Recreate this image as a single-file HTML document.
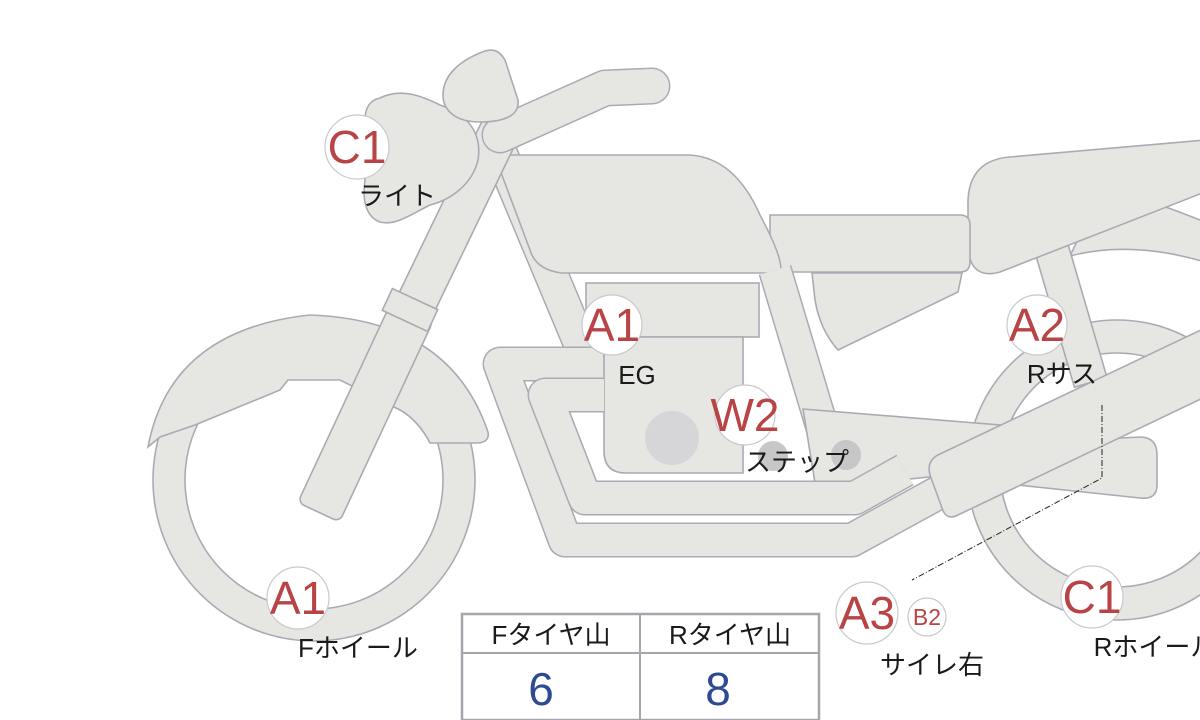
<!DOCTYPE html>
<html><head><meta charset="utf-8"><style>
html,body{margin:0;padding:0;background:#fff;}
svg{display:block;}
.p{fill:#e6e6e3;stroke:#a8acb2;stroke-width:1.6;}
.lb{font-family:"Liberation Sans Narrow","Liberation Sans",sans-serif;fill:#b84446;text-anchor:middle;}
.tx{font-family:"Liberation Sans Narrow","Liberation Sans","Noto Sans CJK JP",sans-serif;fill:#1a1a1a;text-anchor:middle;font-size:26px;}
.c{fill:#fff;stroke:#c9c9cc;stroke-width:1.2;}
</style></head><body>
<svg width="1200" height="720" viewBox="0 0 1200 720" xmlns="http://www.w3.org/2000/svg">
<path class="p" fill-rule="evenodd" d="M967,470a150,150 0 1,0 300,0a150,150 0 1,0 -300,0Z M1000,470a117,117 0 1,0 234,0a117,117 0 1,0 -234,0Z"/>
<path class="p" d="M1070,256 Q1130,240 1205,262 L1205,222 Q1180,212 1160,205 L1080,235 Z"/>
<g transform="translate(1052,250) rotate(73.7)"><rect class="p" x="0" y="-17" width="138" height="34"/></g>
<path class="p" d="M968,200 Q970,160 1010,157 L1205,140 L1205,192 L1000,272 Q972,280 968,250 Z"/>
<path class="p" d="M770,215 L960,215 Q970,215 970,225 L970,262 Q970,272 960,272 L770,272 Z"/>
<path class="p" d="M812,273 L962,273 L958,292 L838,350 Q820,330 815,300 Z"/>
<polyline points="495,140 592,372" fill="none" stroke="#a8acb2" stroke-width="35" stroke-linecap="round"/>
<polyline points="495,140 592,372" fill="none" stroke="#e6e6e3" stroke-width="32" stroke-linecap="round"/>
<path class="p" d="M512,155 L690,155 Q735,158 760,215 Q785,262 780,273 L562,273 Q536,270 530,250 L500,170 Q498,155 512,155 Z"/>
<polyline points="775,270 835,470" fill="none" stroke="#a8acb2" stroke-width="34"/>
<polyline points="775,270 835,470" fill="none" stroke="#e6e6e3" stroke-width="31"/>
<path class="p" d="M803,409 L1000,425 L995,470 L872,483 L815,483 Z"/>
<rect class="p" x="586" y="283" width="173" height="54"/>
<path class="p" d="M604,337 L743,337 L743,473 L626,473 Q604,473 604,451 Z"/>
<circle cx="672" cy="438" r="27" fill="#d6d6d8"/>
<polyline points="603,364 500,364 565,540 852,540 965,478" fill="none" stroke="#a8acb2" stroke-width="35" stroke-linejoin="round"/>
<polyline points="603,364 500,364 565,540 852,540 965,478" fill="none" stroke="#e6e6e3" stroke-width="32" stroke-linejoin="round"/>
<polyline points="604,395 545,395 585,498 855,498 905,470" fill="none" stroke="#a8acb2" stroke-width="35" stroke-linejoin="round"/>
<polyline points="604,395 545,395 585,498 855,498 905,470" fill="none" stroke="#e6e6e3" stroke-width="32" stroke-linejoin="round"/>
<circle cx="773" cy="456" r="15" fill="#c7c7c8"/>
<circle cx="846" cy="455" r="15" fill="#c7c7c8"/>
<path class="p" d="M990,445 L1140,437 Q1157,437 1157,455 L1157,485 Q1157,500 1140,498 L990,482 Z"/>
<path class="p" d="M940,454 L1205,328 L1205,397 L958,515 Q946,521 942,508 L930,475 Q926,460 940,454 Z"/>
<path class="p" fill-rule="evenodd" d="M153,480a161,161 0 1,0 322,0a161,161 0 1,0 -322,0Z M185,480a129,129 0 1,0 258,0a129,129 0 1,0 -258,0Z"/>
<path class="p" d="M148,447 Q170,330 310,315 Q450,320 488,432 Q490,442 478,443 L430,443 Q418,420 400,410 L340,380 L288,380 L280,390 L195,425 L160,437 Z"/>
<g transform="translate(413,310) rotate(-64.2)"><rect class="p" x="-5" y="-20" width="210" height="40"/></g>
<g transform="translate(322,505) rotate(-65)"><rect class="p" x="-8" y="-23" width="222" height="46" rx="7"/></g>
<g transform="translate(410,310) rotate(-65)"><rect class="p" x="-12" y="-25" width="24" height="50"/></g>
<polyline points="500,135 605,88 652,86" fill="none" stroke="#a8acb2" stroke-width="37" stroke-linejoin="round" stroke-linecap="round"/>
<polyline points="500,135 605,88 652,86" fill="none" stroke="#e6e6e3" stroke-width="34" stroke-linejoin="round" stroke-linecap="round"/>
<path class="p" d="M380,98 C400,88 420,95 440,105 C470,115 482,135 478,160 C472,185 450,200 430,205 C410,215 395,226 380,222 C366,217 362,200 365,180 L365,120 C365,108 370,100 380,98 Z"/>
<path class="p" d="M485,51 C495,48 500,52 505,60 L518,100 C520,115 505,122 480,122 C455,122 443,110 443,95 C443,75 460,60 485,51 Z"/>
<path d="M1102,405 L1102,478 L912,580" fill="none" stroke="#222" stroke-width="1" stroke-dasharray="6,2,1,2"/>
<circle class="c" cx="357" cy="147" r="32"/><text class="lb" x="357" y="163" font-size="46">C1</text>
<text class="tx" x="397" y="205">ライト</text>
<circle class="c" cx="612" cy="325" r="30"/><text class="lb" x="612" y="341" font-size="46">A1</text>
<text class="tx" x="637" y="384">EG</text>
<circle class="c" cx="1037" cy="325" r="30"/><text class="lb" x="1037" y="341" font-size="46">A2</text>
<text class="tx" x="1062" y="383">Rサス</text>
<circle class="c" cx="745" cy="415" r="30"/><text class="lb" x="745" y="431" font-size="46">W2</text>
<text class="tx" x="797" y="471">ステップ</text>
<circle class="c" cx="298" cy="598" r="31"/><text class="lb" x="298" y="614" font-size="46">A1</text>
<text class="tx" x="358" y="657">Fホイール</text>
<circle class="c" cx="867" cy="613" r="31"/><text class="lb" x="867" y="629" font-size="46">A3</text>
<circle class="c" cx="927" cy="617" r="19"/><text class="lb" x="927" y="625" font-size="23">B2</text>
<text class="tx" x="932" y="674">サイレ右</text>
<circle class="c" cx="1092" cy="597" r="31"/><text class="lb" x="1092" y="613" font-size="46">C1</text>
<text class="tx" x="1155" y="656">Rホイール</text>
<rect x="462" y="614" width="357" height="106" fill="#fff" stroke="#a3a7ab" stroke-width="2.5"/>
<line x1="462" y1="653" x2="819" y2="653" stroke="#a3a7ab" stroke-width="2"/>
<line x1="640" y1="614" x2="640" y2="720" stroke="#a3a7ab" stroke-width="2"/>
<text class="tx" x="551" y="644" font-size="24">Fタイヤ山</text>
<text class="tx" x="730" y="644" font-size="24">Rタイヤ山</text>
<text x="541" y="705" font-family="Liberation Sans Narrow,Liberation Sans,sans-serif" font-size="46" fill="#2e4a93" text-anchor="middle">6</text>
<text x="718" y="705" font-family="Liberation Sans Narrow,Liberation Sans,sans-serif" font-size="46" fill="#2e4a93" text-anchor="middle">8</text>
</svg>
</body></html>
